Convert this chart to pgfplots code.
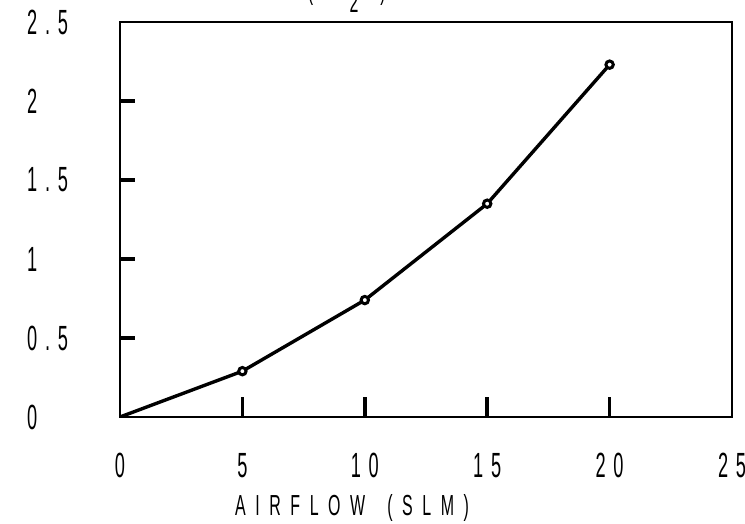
\documentclass[border=0pt]{standalone}
\usepackage{fontspec}
\usepackage{pgfplots}
\pgfplotsset{compat=1.18}
\setmainfont{Liberation Sans}
\newfontfamily\tickfont{Liberation Sans}[FakeStretch=0.52, LetterSpace=22]
\newfontfamily\labelfont{Liberation Sans}[FakeStretch=0.55, LetterSpace=33]

\begin{document}
\begin{tikzpicture}
\begin{axis}[
    name=ax,
    scale only axis,
    width=612pt, height=395pt,
    xmin=0, xmax=25, ymin=0, ymax=2.5,
    xtick={5,10,15,20}, ytick={0.5,1,1.5,2},
    extra x ticks={0,25}, extra y ticks={0,2.5},
    extra tick style={major tick style={draw=none}},
    tick align=inside,
    xtick pos=bottom, ytick pos=left,
    xtick style={/pgfplots/major tick length=20pt},
    ytick style={/pgfplots/major tick length=15pt},
    major tick length=20pt,
    tick style={black, line width=3.6pt},
    axis line style={black, line width=1.3pt},
    /pgf/number format/assume math mode=true,
    ticklabel style={font=\tickfont\fontsize{35}{35}\selectfont, inner sep=0pt},
    xticklabel style={anchor=north, yshift=-36pt},
    yticklabel style={anchor=west, xshift=-93pt},
    title={PRESSURE \hspace{8pt}("H\raisebox{-13pt}{2}O)},
    title style={at={(axis description cs:0,1)}, anchor=base west,
        inner sep=0pt, xshift=11pt, yshift=16pt,
        font=\labelfont\fontsize{29}{29}\selectfont},
    xlabel={AIRFLOW \hspace{8pt}(SLM)},
    xlabel style={at={(axis description cs:0,0)}, anchor=base west,
        inner sep=0pt, xshift=115pt, yshift=-99pt,
        font=\labelfont\fontsize{29}{29}\selectfont},
]
\addplot[black, line width=3.4pt, mark=*, mark indices={2,3,4,5},
    mark size=3.7pt, mark options={fill=white, draw=black, line width=3pt}]
    coordinates {(0,0) (5,0.29) (10,0.74) (15,1.35) (20,2.23)};
\end{axis}
\pgfresetboundingbox
\path ([xshift=-120pt,yshift=-107pt]ax.south west) rectangle ([xshift=13pt,yshift=22pt]ax.north east);
\end{tikzpicture}
\end{document}
